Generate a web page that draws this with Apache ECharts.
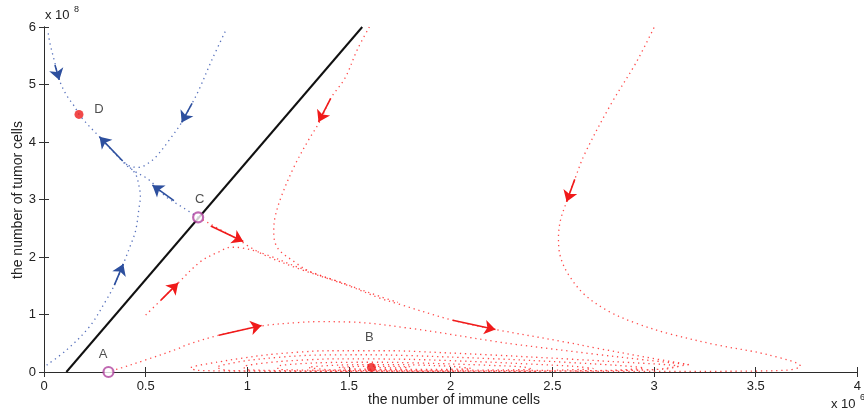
<!DOCTYPE html>
<html><head><meta charset="utf-8">
<script src="https://cdn.jsdelivr.net/npm/echarts@6/dist/echarts.min.js"></script>
<style>html,body{margin:0;padding:0;background:#fff}#c{width:864px;height:418px}</style>
</head><body><div id="c"></div>
<script>
// ---- data (x in 10^6 immune cells, y in 10^8 tumor cells) ----
const separatrix = [[0.11, 0], [1.565, 6]];
const blueTopLeft = [[0.021,5.89],[0.029,5.72],[0.054,5.37],[0.075,5.08],[0.11,4.82],[0.151,4.61],[0.172,4.48]];
const blueCtoD = [[0.758,2.69],[0.688,2.85],[0.6,3.05],[0.517,3.34],[0.45,3.48],[0.41,3.58],[0.387,3.66],[0.33,3.87],[0.273,4.09],[0.24,4.21],[0.208,4.33],[0.172,4.48]];
const blueTop = [[0.891,5.92],[0.826,5.43],[0.761,4.9],[0.728,4.67],[0.677,4.34],[0.615,4.03],[0.55,3.74],[0.50,3.6],[0.468,3.56],[0.43,3.57],[0.39,3.66]];
const blueBottom = [[0.013,0.12],[0.11,0.38],[0.224,0.79],[0.306,1.25],[0.346,1.51],[0.39,1.88],[0.425,2.2],[0.45,2.45],[0.468,2.87],[0.474,3.05],[0.468,3.22],[0.452,3.43],[0.43,3.53],[0.4,3.63]];
const redFromC = [[0.758,2.69],[0.81,2.59],[0.9,2.41],[0.97,2.27],[0.995,2.21],[1.086,2.03],[1.25,1.80],[1.49,1.51],[1.655,1.28],[1.737,1.19],[2.01,0.9],[2.22,0.74],[2.55,0.53],[2.71,0.42],[2.956,0.26],[3.17,0.13]];
const redLeft = [[0.50,0.99],[0.575,1.25],[0.66,1.55],[0.77,1.92],[0.86,2.09],[0.92,2.17],[0.97,2.16],[1.086,2.05],[1.25,1.82],[1.49,1.52]];
const redMiddle = [[1.6,6.0],[1.54,5.6],[1.48,5.11],[1.41,4.76],[1.355,4.35],[1.30,4.03],[1.23,3.57],[1.167,3.05],[1.135,2.67],[1.13,2.41],[1.15,2.15],[1.23,1.92],[1.31,1.74],[1.45,1.57],[1.655,1.31],[1.74,1.21]];
const redFromA = [[0.33,0.02],[0.37,0.06],[0.5,0.21],[0.663,0.41],[0.70,0.47],[0.86,0.64],[1.07,0.80],[1.25,0.86],[1.35,0.875],[1.5,0.87],[1.80,0.76],[2.22,0.53],[2.32,0.48],[2.71,0.31],[2.956,0.21],[3.17,0.13]];
const redRight = [[3.0,5.99],[2.91,5.37],[2.79,4.67],[2.66,3.80],[2.61,3.35],[2.57,2.96],[2.54,2.64],[2.53,2.33],[2.54,2.0],[2.58,1.69],[2.66,1.34],[2.78,1.05],[2.91,0.85],[3.07,0.67],[3.31,0.47],[3.56,0.30],[3.72,0.10],[3.65,0.03],[3.3,0.012],[3.0,0.01],[2.6,0.01]];
const redSpiral = [
  [3.17,0.13],[3.0,0.04],[2.5,0.015],[2.0,0.01],[1.5,0.01],[1.0,0.015],[0.75,0.03],[0.72,0.07],[0.85,0.17],[1.1,0.3],[1.4,0.37],[1.7,0.37],[2.0,0.33],[2.4,0.26],[2.8,0.18],[3.12,0.1],
  [3.05,0.05],[2.7,0.02],[2.2,0.012],[1.7,0.012],[1.2,0.015],[0.9,0.03],[0.85,0.08],[1.0,0.2],[1.3,0.29],[1.6,0.3],[2.0,0.26],[2.4,0.2],[2.8,0.12],[2.95,0.07],
  [2.8,0.03],[2.3,0.015],[1.8,0.015],[1.3,0.02],[1.0,0.04],[0.98,0.09],[1.15,0.18],[1.45,0.23],[1.8,0.22],[2.2,0.17],[2.6,0.1],[2.7,0.06],
  [2.5,0.03],[2.0,0.02],[1.5,0.025],[1.15,0.05],[1.15,0.1],[1.35,0.16],[1.65,0.17],[2.0,0.14],[2.35,0.09],[2.4,0.05],
  [2.2,0.035],[1.8,0.03],[1.4,0.04],[1.3,0.08],[1.45,0.12],[1.7,0.13],[2.0,0.1],[2.1,0.06],
  [1.9,0.045],[1.55,0.05],[1.45,0.08],[1.6,0.1],[1.8,0.09],[1.75,0.07],[1.61,0.08]
];
const redArrows = [[0.82,2.54,0.98,2.27],[0.575,1.25,0.66,1.55],[0.86,0.64,1.07,0.81],[2.01,0.90,2.22,0.74],[1.41,4.76,1.35,4.35],[2.61,3.35,2.57,2.96]];
const blueArrows = [[0.054,5.34,0.075,5.08],[0.728,4.67,0.677,4.34],[0.387,3.67,0.273,4.09],[0.639,2.98,0.533,3.25],[0.346,1.51,0.39,1.88]];
const saddlePoints = [[0.317,0],[0.758,2.69]];      // A, C (open circles)
const stablePoints = [[1.61,0.08],[0.172,4.48]];    // B, D (filled)
const pointLabels = [['A',0.29,0.3],['B',1.60,0.61],['C',0.766,3.0],['D',0.27,4.56]];
const xTickVals = [0,0.5,1,1.5,2,2.5,3,3.5,4];
const yTickVals = [0,1,2,3,4,5,6];
const xTitle = 'the number of immune cells';
const yTitle = 'the number of tumor cells';

const RED = '#ff2a2a', BLUE = '#3a58b0', MAG = '#b0449f';
const FONT = 'Liberation Sans, Arial, sans-serif';
function dotted(name, data, color) {
  return {name, type:'line', data, showSymbol:false, smooth:0.35, silent:true,
    lineStyle:{color, width:1.3, type:[1.3,3.8], opacity:0.85}, z:2};
}
function arrows(list, color) {
  return {type:'lines', coordinateSystem:'cartesian2d', silent:true, z:5,
    symbol:['none','arrow'], symbolSize:11,
    lineStyle:{color, width:1.6, opacity:1, curveness:0},
    data:list.map(a => ({coords:[[a[0],a[1]],[a[2],a[3]]]}))};
}
const chart = echarts.init(document.getElementById('c'));
const axisCommon = {axisLine:{lineStyle:{color:'#2b2b2b', width:1}}, splitLine:{show:false}};
chart.setOption({
  animation:false,
  grid:{left:44, top:27, right:-1, bottom:46},
  xAxis:[
    Object.assign({type:'value', min:0, max:4, interval:0.5, position:'bottom',
      axisTick:{inside:true, length:5, lineStyle:{color:'#333'}},
      axisLabel:{color:'#222', fontSize:13, fontFamily:FONT, margin:8}}, axisCommon),
    Object.assign({type:'value', min:0, max:4, interval:0.5, position:'top',
      axisTick:{inside:true, length:5, lineStyle:{color:'#333'}}, axisLabel:{show:false}}, axisCommon)
  ],
  yAxis:[
    Object.assign({type:'value', min:0, max:6, interval:1, position:'left',
      axisTick:{inside:true, length:5, lineStyle:{color:'#333'}},
      axisLabel:{color:'#222', fontSize:13, fontFamily:FONT, margin:8}}, axisCommon),
    Object.assign({type:'value', min:0, max:6, interval:1, position:'right',
      axisTick:{inside:true, length:5, lineStyle:{color:'#333'}}, axisLabel:{show:false}}, axisCommon)
  ],
  series:[
    dotted('blueTopLeft', blueTopLeft, BLUE),
    dotted('blueCtoD', blueCtoD, BLUE),
    dotted('blueTop', blueTop, BLUE),
    dotted('blueBottom', blueBottom, BLUE),
    dotted('redFromC', redFromC, RED),
    dotted('redLeft', redLeft, RED),
    dotted('redMiddle', redMiddle, RED),
    dotted('redFromA', redFromA, RED),
    dotted('redRight', redRight, RED),
    Object.assign(dotted('redSpiral', redSpiral, RED), {smooth:0.25}),
    {type:'line', data:separatrix, showSymbol:false, silent:true, z:3,
      lineStyle:{color:'#111', width:2}},
    arrows(redArrows, '#f01a1a'),
    arrows(blueArrows, '#2d4f9e'),
    {type:'scatter', data:saddlePoints, symbol:'circle', symbolSize:10, z:6, silent:true,
      itemStyle:{color:'#fff', borderColor:MAG, borderWidth:2.2}},
    {type:'scatter', data:stablePoints, symbol:'circle', symbolSize:9, z:6, silent:true,
      itemStyle:{color:'#ee1c1c'}},
    {type:'scatter', symbolSize:0, z:7, silent:true,
      data:pointLabels.map(p => ({name:p[0], value:[p[1],p[2]]})),
      label:{show:true, position:'inside', formatter:'{b}', color:'#222', fontSize:13, fontFamily:FONT}}
  ],
  graphic:[
    {type:'text', left:45, top:9, style:{text:'x 10', font:'13px '+FONT, fill:'#222'}},
    {type:'text', left:74, top:5, style:{text:'8', font:'9px '+FONT, fill:'#222'}},
    {type:'text', left:831, top:398, style:{text:'x 10', font:'13px '+FONT, fill:'#222'}},
    {type:'text', left:860, top:393, style:{text:'6', font:'9px '+FONT, fill:'#222'}},
    {type:'text', x:454, y:400, style:{text:xTitle, font:'14px '+FONT, fill:'#222', align:'center', verticalAlign:'middle'}},
    {type:'text', x:18, y:200, rotation:Math.PI/2, style:{text:yTitle, font:'14px '+FONT, fill:'#222', align:'center', verticalAlign:'middle'}}
  ]
});
</script></body></html>
